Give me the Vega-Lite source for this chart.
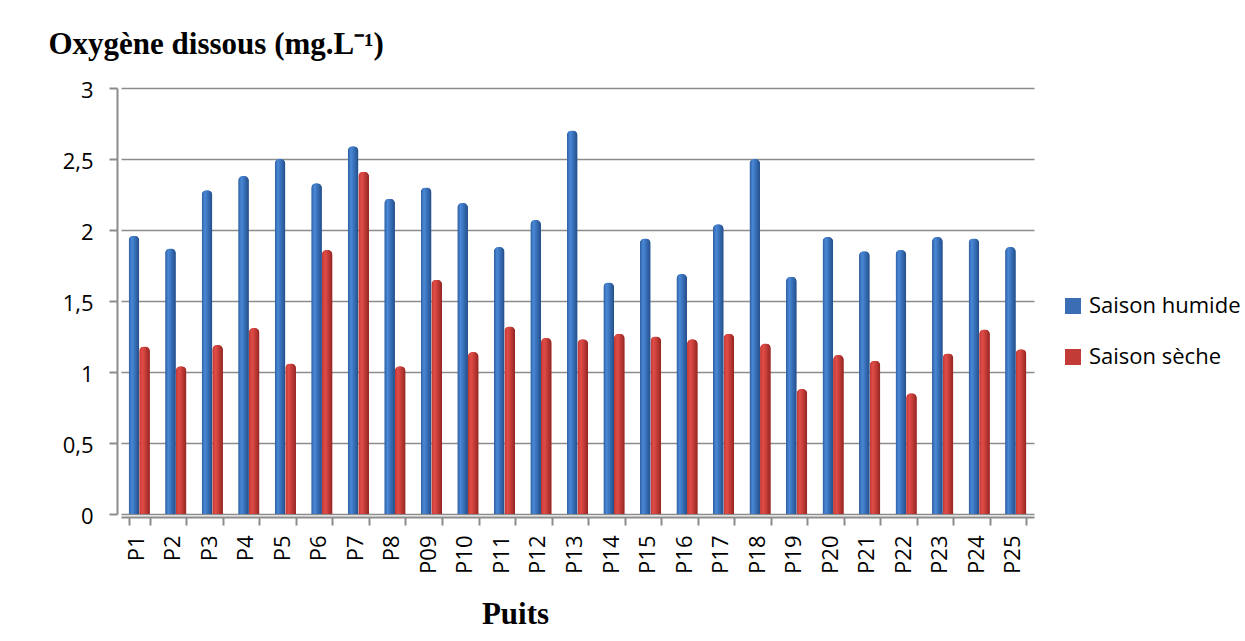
{
  "$schema": "https://vega.github.io/schema/vega-lite/v6.json",
  "width": 913,
  "height": 426,
  "autosize": {"type": "none"},
  "padding": {"left": 121, "top": 88, "right": 211, "bottom": 127},
  "background": "white",
  "config": {"view": {"stroke": null}, "font": "Open Sans"},
  "data": {
    "values": [
      {"puits": "P1", "saison": "Saison humide", "valeur": 1.96},
      {"puits": "P1", "saison": "Saison sèche", "valeur": 1.18},
      {"puits": "P2", "saison": "Saison humide", "valeur": 1.87},
      {"puits": "P2", "saison": "Saison sèche", "valeur": 1.04},
      {"puits": "P3", "saison": "Saison humide", "valeur": 2.28},
      {"puits": "P3", "saison": "Saison sèche", "valeur": 1.19},
      {"puits": "P4", "saison": "Saison humide", "valeur": 2.38},
      {"puits": "P4", "saison": "Saison sèche", "valeur": 1.31},
      {"puits": "P5", "saison": "Saison humide", "valeur": 2.5},
      {"puits": "P5", "saison": "Saison sèche", "valeur": 1.06},
      {"puits": "P6", "saison": "Saison humide", "valeur": 2.33},
      {"puits": "P6", "saison": "Saison sèche", "valeur": 1.86},
      {"puits": "P7", "saison": "Saison humide", "valeur": 2.59},
      {"puits": "P7", "saison": "Saison sèche", "valeur": 2.41},
      {"puits": "P8", "saison": "Saison humide", "valeur": 2.22},
      {"puits": "P8", "saison": "Saison sèche", "valeur": 1.04},
      {"puits": "P09", "saison": "Saison humide", "valeur": 2.3},
      {"puits": "P09", "saison": "Saison sèche", "valeur": 1.65},
      {"puits": "P10", "saison": "Saison humide", "valeur": 2.19},
      {"puits": "P10", "saison": "Saison sèche", "valeur": 1.14},
      {"puits": "P11", "saison": "Saison humide", "valeur": 1.88},
      {"puits": "P11", "saison": "Saison sèche", "valeur": 1.32},
      {"puits": "P12", "saison": "Saison humide", "valeur": 2.07},
      {"puits": "P12", "saison": "Saison sèche", "valeur": 1.24},
      {"puits": "P13", "saison": "Saison humide", "valeur": 2.7},
      {"puits": "P13", "saison": "Saison sèche", "valeur": 1.23},
      {"puits": "P14", "saison": "Saison humide", "valeur": 1.63},
      {"puits": "P14", "saison": "Saison sèche", "valeur": 1.27},
      {"puits": "P15", "saison": "Saison humide", "valeur": 1.94},
      {"puits": "P15", "saison": "Saison sèche", "valeur": 1.25},
      {"puits": "P16", "saison": "Saison humide", "valeur": 1.69},
      {"puits": "P16", "saison": "Saison sèche", "valeur": 1.23},
      {"puits": "P17", "saison": "Saison humide", "valeur": 2.04},
      {"puits": "P17", "saison": "Saison sèche", "valeur": 1.27},
      {"puits": "P18", "saison": "Saison humide", "valeur": 2.5},
      {"puits": "P18", "saison": "Saison sèche", "valeur": 1.2},
      {"puits": "P19", "saison": "Saison humide", "valeur": 1.67},
      {"puits": "P19", "saison": "Saison sèche", "valeur": 0.88},
      {"puits": "P20", "saison": "Saison humide", "valeur": 1.95},
      {"puits": "P20", "saison": "Saison sèche", "valeur": 1.12},
      {"puits": "P21", "saison": "Saison humide", "valeur": 1.85},
      {"puits": "P21", "saison": "Saison sèche", "valeur": 1.08},
      {"puits": "P22", "saison": "Saison humide", "valeur": 1.86},
      {"puits": "P22", "saison": "Saison sèche", "valeur": 0.85},
      {"puits": "P23", "saison": "Saison humide", "valeur": 1.95},
      {"puits": "P23", "saison": "Saison sèche", "valeur": 1.13},
      {"puits": "P24", "saison": "Saison humide", "valeur": 1.94},
      {"puits": "P24", "saison": "Saison sèche", "valeur": 1.3},
      {"puits": "P25", "saison": "Saison humide", "valeur": 1.88},
      {"puits": "P25", "saison": "Saison sèche", "valeur": 1.16}
    ]
  },
  "encoding": {
    "x": {
      "field": "puits",
      "type": "nominal",
      "scale": {
        "domain": ["P1", "P2", "P3", "P4", "P5", "P6", "P7", "P8", "P09", "P10", "P11", "P12", "P13", "P14", "P15", "P16", "P17", "P18", "P19", "P20", "P21", "P22", "P23", "P24", "P25"],
        "paddingInner": 0.42,
        "paddingOuter": 0.21
      },
      "axis": {
        "title": "Puits",
        "titleFont": "Liberation Serif",
        "titleFontWeight": "bold",
        "titleFontSize": 31,
        "titleColor": "black",
        "titleX": 394,
        "titleY": 106,
        "titleAlign": "center",
        "titleBaseline": "alphabetic",
        "labelAngle": -90,
        "labelFont": "Open Sans",
        "labelFontSize": 22,
        "labelColor": "black",
        "labelPadding": 10,
        "labelOffset": -3,
        "labelOverlap": false,
        "labelFlush": false,
        "tickBand": "extent",
        "tickSize": 8,
        "tickColor": "#8c8c8c",
        "tickWidth": 2,
        "domainColor": "#8c8c8c",
        "domainWidth": 2,
        "offset": 3,
        "grid": false
      }
    },
    "xOffset": {
      "field": "saison",
      "type": "nominal",
      "scale": {"domain": ["Saison humide", "Saison sèche"], "paddingInner": 0, "paddingOuter": 0}
    },
    "y": {
      "field": "valeur",
      "type": "quantitative",
      "scale": {"domain": [0, 3], "nice": false},
      "axis": {
        "title": "Oxygène dissous (mg.L⁻¹)",
        "titleAngle": 0,
        "titleX": -69,
        "titleY": -35,
        "titleAlign": "left",
        "titleBaseline": "alphabetic",
        "titleFont": "Liberation Serif",
        "titleFontWeight": "bold",
        "titleFontSize": 31,
        "titleColor": "black",
        "values": [0, 0.5, 1, 1.5, 2, 2.5, 3],
        "labelExpr": "replace(toString(datum.value), '.', ',')",
        "labelFont": "Open Sans",
        "labelFontSize": 22,
        "labelColor": "black",
        "labelPadding": 16,
        "labelOffset": 2,
        "tickSize": 8,
        "tickColor": "#8c8c8c",
        "tickWidth": 2,
        "domainColor": "#8c8c8c",
        "domainWidth": 2,
        "offset": 4,
        "gridColor": "#8c8c8c",
        "gridWidth": 1.6
      }
    }
  },
  "layer": [
    {
      "mark": {"type": "bar", "cornerRadiusTopLeft": 5, "cornerRadiusTopRight": 5},
      "encoding": {
        "color": {
          "field": "saison",
          "type": "nominal",
          "scale": {"domain": ["Saison humide", "Saison sèche"], "range": ["#3a6db3", "#c23b37"]},
          "legend": {
            "orient": "none",
            "legendX": 941,
            "legendY": 207,
            "title": null,
            "symbolType": "square",
            "symbolSize": 256,
            "symbolStrokeWidth": 0,
            "labelFont": "Open Sans",
            "labelFontSize": 22,
            "labelColor": "black",
            "labelOffset": 5,
            "rowPadding": 29
          }
        }
      }
    },
    {
      "transform": [{"filter": "datum.saison === 'Saison humide'"}],
      "mark": {
        "type": "bar",
        "cornerRadiusTopLeft": 5,
        "cornerRadiusTopRight": 5,
        "color": {
          "gradient": "linear", "x1": 0, "y1": 0, "x2": 1, "y2": 0,
          "stops": [
            {"offset": 0, "color": "#2d5e9f"},
            {"offset": 0.3, "color": "#4a88d6"},
            {"offset": 0.55, "color": "#3a73bd"},
            {"offset": 1, "color": "#244e88"}
          ]
        }
      }
    },
    {
      "transform": [{"filter": "datum.saison === 'Saison sèche'"}],
      "mark": {
        "type": "bar",
        "cornerRadiusTopLeft": 5,
        "cornerRadiusTopRight": 5,
        "color": {
          "gradient": "linear", "x1": 0, "y1": 0, "x2": 1, "y2": 0,
          "stops": [
            {"offset": 0, "color": "#c13632"},
            {"offset": 0.3, "color": "#e04d48"},
            {"offset": 0.55, "color": "#c93f3a"},
            {"offset": 1, "color": "#922522"}
          ]
        }
      }
    }
  ]
}
